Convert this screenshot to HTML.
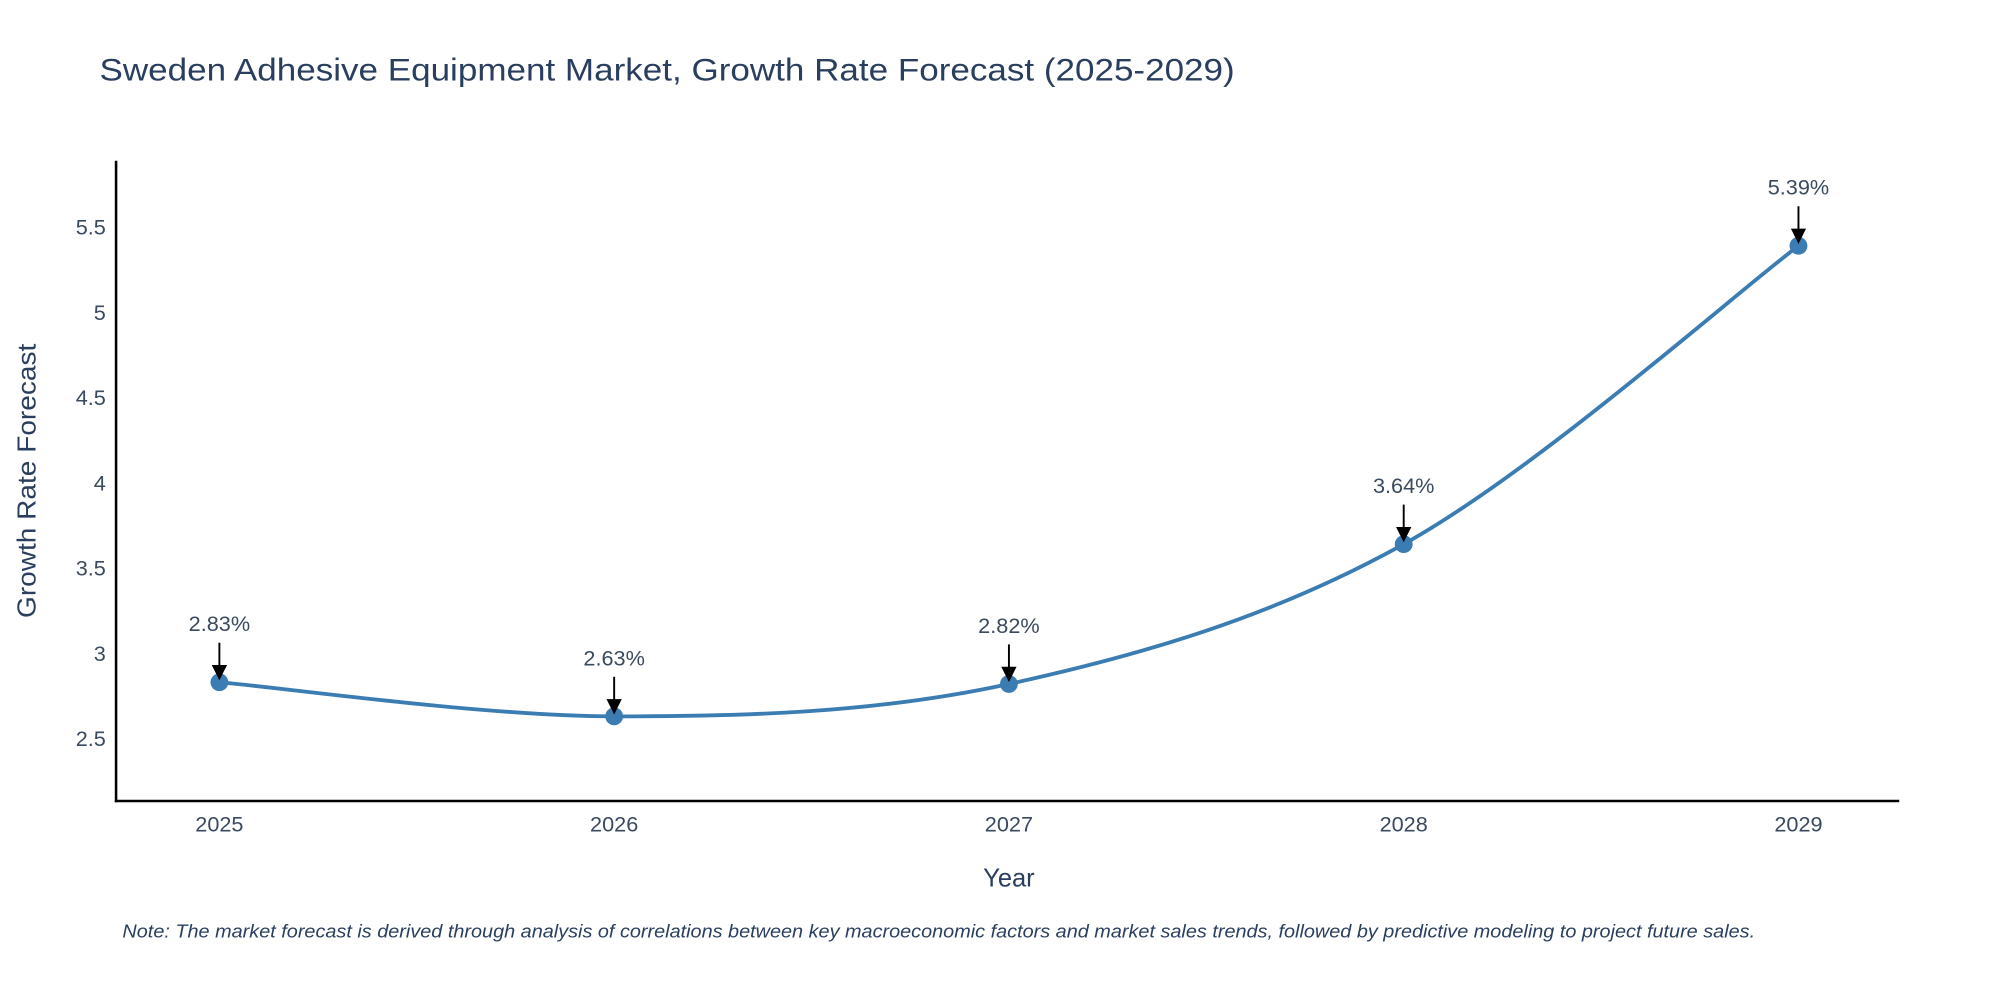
<!DOCTYPE html>
<html><head><meta charset="utf-8"><style>
html,body{margin:0;padding:0;background:#fff;width:2000px;height:1000px;overflow:hidden}
svg text{font-family:"Liberation Sans",sans-serif}
</style></head><body>
<svg id="chart" width="2000" height="1000" viewBox="0 0 1568 784" xmlns="http://www.w3.org/2000/svg">
<text x="78" y="63" font-size="25" fill="#2a3f5f" textLength="890" lengthAdjust="spacingAndGlyphs">Sweden Adhesive Equipment Market, Growth Rate Forecast (2025-2029)</text>
<g id="yticks"></g>
<g id="xticks"></g>
<line x1="91" y1="126" x2="91" y2="629" stroke="#000" stroke-width="2"/>
<line x1="90" y1="628" x2="1489" y2="628" stroke="#000" stroke-width="2"/>
<text transform="translate(28,377) rotate(-90)" text-anchor="middle" font-size="20" fill="#2a3f5f" textLength="215" lengthAdjust="spacingAndGlyphs">Growth Rate Forecast</text>
<text x="791" y="695" text-anchor="middle" font-size="20" fill="#2a3f5f">Year</text>
<text x="96" y="735" font-size="14.5" font-style="italic" fill="#2a3f5f" textLength="1280" lengthAdjust="spacingAndGlyphs">Note: The market forecast is derived through analysis of correlations between key macroeconomic factors and market sales trends, followed by predictive modeling to project future sales.</text>
<defs><marker id="ah" markerWidth="8" markerHeight="8" refX="7" refY="4" orient="auto" markerUnits="strokeWidth"><path d="M0,0 L8,4 L0,8 z" fill="#000"/></marker></defs>
<g id="series"></g>
</svg>
<script>
const years = [2025, 2026, 2027, 2028, 2029];
const values = [2.83, 2.63, 2.82, 3.64, 5.39];
const labels = ["2.83%", "2.63%", "2.82%", "3.64%", "5.39%"];
const yTicks = [2.5, 3, 3.5, 4, 4.5, 5, 5.5];
const yTickLabels = ["2.5", "3", "3.5", "4", "4.5", "5", "5.5"];

const NS = "http://www.w3.org/2000/svg";
const x = yr => 172 + (yr - 2025) * 309.5;
const y = v => 579 - (v - 2.5) * 133.67;
function mk(tag, attrs, parent) { const e = document.createElementNS(NS, tag); for (const k in attrs) e.setAttribute(k, attrs[k]); parent.appendChild(e); return e; }

const yt = document.getElementById('yticks');
yTicks.forEach((v, i) => {
  const t = mk('text', {x: 83, y: y(v) + 6, 'text-anchor': 'end', 'font-size': 17, fill: '#3a4a5f'}, yt);
  
  
  t.textContent = yTickLabels[i];
});
const xt = document.getElementById('xticks');
years.forEach(yr => {
  const t = mk('text', {x: x(yr), y: 652, 'text-anchor': 'middle', 'font-size': 17, fill: '#3a4a5f'}, xt);
  
  
  t.textContent = String(yr);
});

const g = document.getElementById('series');
const pts = years.map((yr, i) => [x(yr), y(values[i])]);
let d = `M${pts[0][0]},${pts[0][1]}`;
for (let i = 0; i < pts.length - 1; i++) {
  const p0 = pts[Math.max(0, i - 1)], p1 = pts[i], p2 = pts[i + 1], p3 = pts[Math.min(pts.length - 1, i + 2)];
  const s = 6;
  d += ` C${p1[0] + (p2[0] - p0[0]) / s},${p1[1] + (p2[1] - p0[1]) / s} ${p2[0] - (p3[0] - p1[0]) / s},${p2[1] - (p3[1] - p1[1]) / s} ${p2[0]},${p2[1]}`;
}
const line = mk('path', {d: d, fill: 'none', stroke: '#3b7db3', 'stroke-width': 3}, g);


pts.forEach((p, i) => {
  const c = mk('circle', {cx: p[0], cy: p[1], r: 7, fill: '#3b7db3'}, g);
  
  
  const a = mk('line', {x1: p[0], y1: p[1] - 31, x2: p[0], y2: p[1] - 3, stroke: '#000', 'stroke-width': 1.5, 'marker-end': 'url(#ah)'}, g);
  
  
  const t = mk('text', {x: p[0], y: p[1] - 40, 'text-anchor': 'middle', 'font-size': 17, fill: '#3a4a5f'}, g);
  
  
  t.textContent = labels[i];
});
</script>
</body></html>
